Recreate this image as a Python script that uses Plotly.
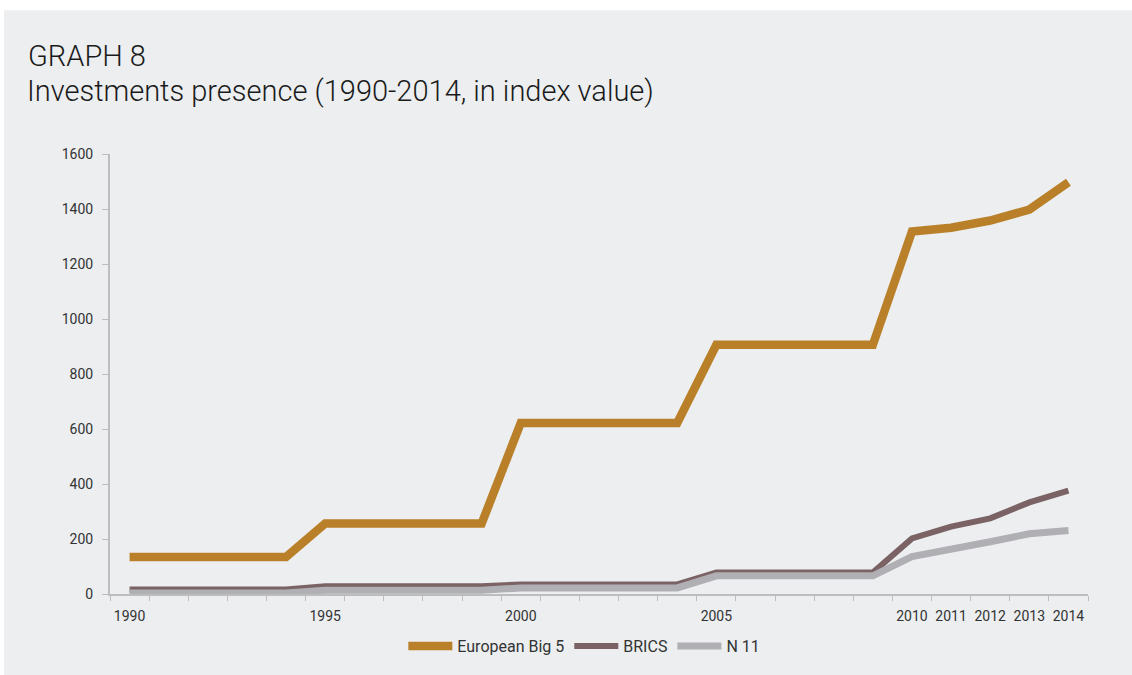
import plotly.graph_objects as go

years = [str(y) for y in range(1990, 2015)]
tick_labels = [y if y in ("1990", "1995", "2000", "2005", "2010", "2011", "2012", "2013", "2014") else "" for y in years]

big5 = [135, 135, 135, 135, 135,
        256, 256, 256, 256, 256,
        622, 622, 622, 622, 622,
        906, 906, 906, 906, 906,
        1318, 1332, 1358, 1398, 1497]
brics = [16, 16, 16, 16, 16,
         28, 28, 28, 28, 28,
         35, 35, 35, 35, 35,
         78, 78, 78, 78, 78,
         202, 245, 275, 333, 376]
n11 = [4, 4, 4, 4, 4,
       14, 14, 14, 14, 14,
       22, 22, 22, 22, 22,
       66, 66, 66, 66, 66,
       136, 166, 190, 219, 231]

series_names = ["European Big 5", "BRICS", "N 11"]
series_colors = ["#B98029", "#7B6265", "#B0AFB3"]
series_widths = [8.5, 6, 7]

BG = "#ECEEF0"
FONT = "Roboto"

fig = go.Figure()
for name, vals, col, w in zip(series_names, [big5, brics, n11], series_colors, series_widths):
    fig.add_trace(go.Scatter(x=years, y=vals, name=name, mode="lines",
                             line=dict(color=col, width=w)))

fig.update_layout(
    width=1132, height=675,
    margin=dict(l=110, r=44, t=154, b=77),
    paper_bgcolor="white",
    plot_bgcolor=BG,
    font=dict(family=FONT, color="#333333", size=13),
    showlegend=True,
    legend=dict(orientation="h", x=0.485, xanchor="center", y=-0.08, yanchor="top",
                font=dict(size=16, color="#333333"), itemwidth=44,
                traceorder="normal", bgcolor="rgba(0,0,0,0)"),
    shapes=[dict(type="rect", xref="paper", yref="paper",
                 x0=(4 - 110) / 978, x1=(1140 - 110) / 978,
                 y0=(598 - 680) / 444, y1=(598 - 9) / 444,
                 fillcolor=BG, line=dict(width=0), layer="below")],
    annotations=[
        dict(text="GRAPH 8", xref="paper", yref="paper",
             x=(26 - 110) / 978, y=(598 - 36) / 444, xanchor="left", yanchor="top",
             showarrow=False, font=dict(family=FONT, size=29, color="#1a1a1a", weight=300)),
        dict(text="Investments presence (1990-2014, in index value)", xref="paper", yref="paper",
             x=(25 - 110) / 978, y=(598 - 71) / 444, xanchor="left", yanchor="top",
             showarrow=False, font=dict(family=FONT, size=29, color="#1a1a1a", weight=300)),
    ],
)

fig.update_xaxes(type="category", tickmode="array", tickvals=years, ticktext=tick_labels,
                 tickson="boundaries", ticks="outside", ticklen=5, tickcolor="#BDBDBD",
                 showline=True, linecolor="#BDBDBD", linewidth=2, showgrid=False, zeroline=False,
                 tickfont=dict(size=14, color="#333333"), range=[-0.5, 24.5],
                 tickangle=0, ticklabelstandoff=8)
fig.update_yaxes(range=[0, 1600], tickmode="array", tickvals=list(range(0, 1601, 200)),
                 ticks="outside", ticklen=6, tickcolor="#BDBDBD",
                 showline=True, linecolor="#BDBDBD", linewidth=2, showgrid=False, zeroline=False,
                 tickfont=dict(size=14, color="#333333"), ticklabelstandoff=6)

fig.write_html("out.html")
